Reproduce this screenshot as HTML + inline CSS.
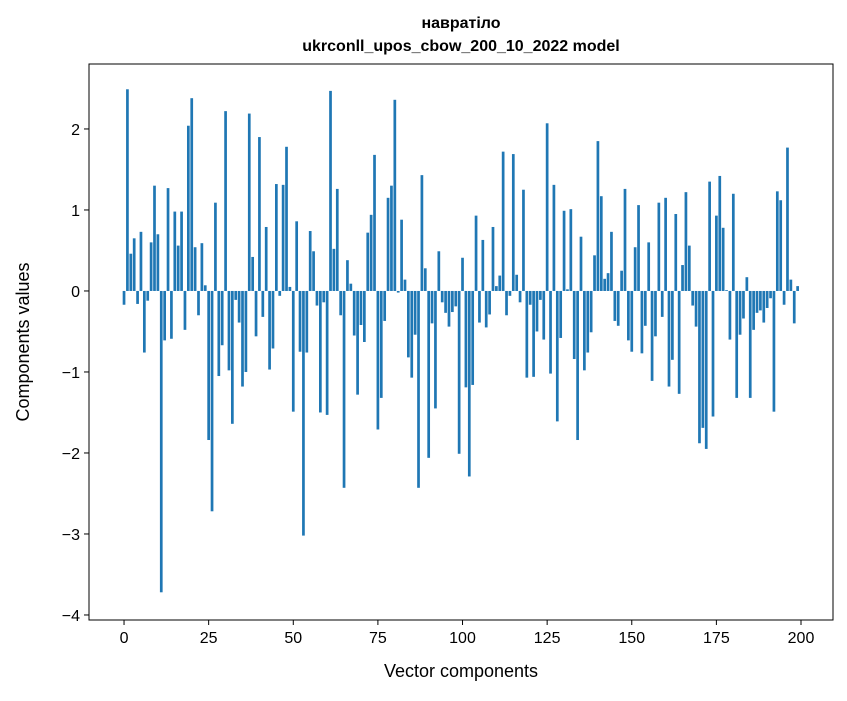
<!DOCTYPE html>
<html><head><meta charset="utf-8"><style>
body{margin:0;background:#fff;}
svg text{font-family:"Liberation Sans","DejaVu Sans",sans-serif;fill:#000;}
</style></head><body>
<svg id="chart" width="847" height="696" viewBox="0 0 847 696" xmlns="http://www.w3.org/2000/svg">
<rect width="847" height="696" fill="#fff"/>
<text x="461" y="28" text-anchor="middle" font-size="16" font-weight="bold">навратіло</text>
<text x="461" y="51" text-anchor="middle" font-size="16" font-weight="bold">ukrconll_upos_cbow_200_10_2022 model</text>
<g id="bars"></g>
<g id="xticks"></g>
<g id="yticks"></g>
<rect x="89" y="64" width="744" height="556" fill="none" stroke="#000" stroke-width="1"/>
<text x="461" y="677" text-anchor="middle" font-size="18">Vector components</text>
<text transform="translate(29,342) rotate(-90)" text-anchor="middle" font-size="18">Components values</text>
</svg>
<script>
const values = [-0.17,2.49,0.46,0.65,-0.16,0.73,-0.76,-0.12,0.60,1.30,
0.70,-3.72,-0.61,1.27,-0.59,0.98,0.56,0.98,-0.48,2.04,
2.38,0.54,-0.30,0.59,0.07,-1.84,-2.72,1.09,-1.05,-0.67,
2.22,-0.98,-1.64,-0.11,-0.39,-1.18,-1.00,2.19,0.42,-0.56,
1.90,-0.32,0.79,-0.97,-0.71,1.32,-0.06,1.31,1.78,0.05,
-1.49,0.86,-0.75,-3.02,-0.76,0.74,0.49,-0.18,-1.50,-0.14,
-1.53,2.47,0.52,1.26,-0.30,-2.43,0.38,0.09,-0.55,-1.28,
-0.42,-0.63,0.72,0.94,1.68,-1.71,-1.32,-0.37,1.15,1.30,
2.36,-0.02,0.88,0.14,-0.82,-1.07,-0.54,-2.43,1.43,0.28,
-2.06,-0.40,-1.45,0.49,-0.14,-0.27,-0.44,-0.26,-0.19,-2.01,
0.41,-1.19,-2.29,-1.16,0.93,-0.39,0.63,-0.45,-0.29,0.79,
0.06,0.19,1.72,-0.30,-0.06,1.69,0.20,-0.14,1.25,-1.07,
-0.17,-1.06,-0.50,-0.11,-0.60,2.07,-1.02,1.31,-1.61,-0.58,
0.99,0.02,1.01,-0.84,-1.84,0.67,-0.98,-0.76,-0.51,0.44,
1.85,1.17,0.15,0.22,0.73,-0.37,-0.43,0.25,1.26,-0.61,
-0.75,0.54,1.06,-0.77,-0.43,0.60,-1.11,-0.56,1.09,-0.32,
1.15,-1.18,-0.85,0.95,-1.27,0.32,1.22,0.56,-0.18,-0.44,
-1.88,-1.69,-1.95,1.35,-1.55,0.93,1.42,0.78,0.01,-0.60,
1.20,-1.32,-0.54,-0.34,0.17,-1.32,-0.48,-0.27,-0.24,-0.39,
-0.21,-0.09,-1.49,1.23,1.12,-0.17,1.77,0.14,-0.40,0.06];
const xTicks = [0,25,50,75,100,125,150,175,200];
const yTicks = [2,1,0,-1,-2,-3,-4];
const xMin=-10.35, xMax=209.45, yMin=-4.062, yMax=2.802;
const L=89,R=833,T=64,B=620;
function xs(v){return L+(v-xMin)/(xMax-xMin)*(R-L);}
function ys(v){return B-(v-yMin)/(yMax-yMin)*(B-T);}
const NS="http://www.w3.org/2000/svg";
const gb=document.getElementById('bars');
values.forEach((v,i)=>{
  const r=document.createElementNS(NS,'rect');
  const x0=xs(i-0.4), x1=xs(i+0.4);
  const y0=ys(Math.max(v,0)), y1=ys(Math.min(v,0));
  r.setAttribute('x',x0);r.setAttribute('width',x1-x0);
  r.setAttribute('y',y0);r.setAttribute('height',Math.max(y1-y0,0.3));
  r.setAttribute('fill','#1f77b4');
  
  
  gb.appendChild(r);
});
const gx=document.getElementById('xticks');
xTicks.forEach(t=>{
  const x=xs(t);
  const l=document.createElementNS(NS,'line');
  l.setAttribute('x1',x);l.setAttribute('x2',x);l.setAttribute('y1',B);l.setAttribute('y2',B+5);
  l.setAttribute('stroke','#000');
  
  
  gx.appendChild(l);
  const tx=document.createElementNS(NS,'text');
  tx.setAttribute('x',x);tx.setAttribute('y',B+23);tx.setAttribute('text-anchor','middle');tx.setAttribute('font-size','16');
  tx.textContent=t;
  
  
  gx.appendChild(tx);
});
const gy=document.getElementById('yticks');
yTicks.forEach(t=>{
  const y=ys(t);
  const l=document.createElementNS(NS,'line');
  l.setAttribute('x1',L-5);l.setAttribute('x2',L);l.setAttribute('y1',y);l.setAttribute('y2',y);
  l.setAttribute('stroke','#000');
  
  
  gy.appendChild(l);
  const tx=document.createElementNS(NS,'text');
  tx.setAttribute('x',L-9);tx.setAttribute('y',y+6);tx.setAttribute('text-anchor','end');tx.setAttribute('font-size','16');
  tx.textContent=t<0?'\u2212'+(-t):String(t);
  
  
  gy.appendChild(tx);
});
</script>
</body></html>
